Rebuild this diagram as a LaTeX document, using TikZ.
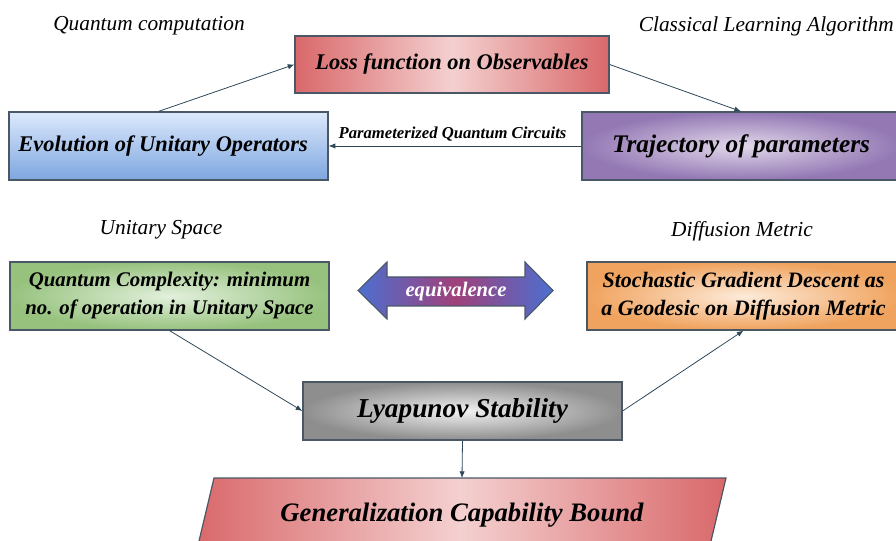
\documentclass[tikz,border=0pt]{standalone}
\usepackage{fontspec}
\setmainfont{Liberation Serif}
\usetikzlibrary{arrows.meta,shapes.geometric}
\definecolor{linec}{HTML}{2F4858}
\definecolor{boxline}{HTML}{4A5866}
\definecolor{redE}{HTML}{D9686A}
\definecolor{redC}{HTML}{F4D0D0}
\definecolor{blueT}{HTML}{DCE9FC}
\definecolor{blueB}{HTML}{7EA6E0}
\definecolor{purE}{HTML}{9378B4}
\definecolor{purC}{HTML}{E2D8EA}
\definecolor{grnE}{HTML}{97C27E}
\definecolor{grnC}{HTML}{E2F0DC}
\definecolor{orgE}{HTML}{F0A35E}
\definecolor{orgC}{HTML}{FDEBDA}
\definecolor{gryE}{HTML}{8E8E8E}
\definecolor{gryC}{HTML}{F2F2F2}
\definecolor{arrB}{HTML}{4C6FD0}
\definecolor{arrM}{HTML}{A0407A}
\tikzset{
  box/.style={draw=boxline, line width=0.9pt, rectangle, align=center,
    font=\bfseries\itshape, inner sep=2pt},
  lbl/.style={font=\itshape\fontsize{16}{18}\selectfont, inner sep=0pt},
  conn/.style={draw=linec, line width=0.6pt, -{Latex[length=5pt,width=4pt]}},
}
\begin{document}
\begin{tikzpicture}[x=0.75pt,y=-0.75pt]
\useasboundingbox (0,0) rectangle (896,541);
\clip (0,0) rectangle (896,541);

% labels
\node[lbl] (lq) at (149,26) {Quantum computation};
\node[lbl, anchor=east] (lc) at (894,26) {Classical Learning Algorithm};
\node[lbl] (lu) at (161,230) {Unitary Space};
\node[lbl] (ld) at (742,231) {Diffusion Metric};

% top boxes
\node[box, left color=redE, right color=redE, middle color=redC,
  minimum width=235.5pt, minimum height=42.75pt,
  font=\bfseries\itshape\fontsize{16.8}{20}\selectfont] (loss) at (452,64.5)
  {Loss function on Observables};
\node[box, top color=blueT, bottom color=blueB,
  minimum width=239.25pt, minimum height=51pt,
  font=\bfseries\itshape\fontsize{16.8}{20}\selectfont] (evo) at (168.5,146)
  {\hspace*{-8pt}Evolution of Unitary Operators};
\node[box, inner color=purC, outer color=purE,
  minimum width=238.5pt, minimum height=51pt,
  font=\bfseries\itshape\fontsize{19}{22}\selectfont] (traj) at (741,146)
  {Trajectory of parameters};

% middle boxes
\node[box, inner color=grnC, outer color=grnE,
  minimum width=239.25pt, minimum height=51pt,
  font=\bfseries\itshape\fontsize{15.6}{21}\selectfont] (qc) at (169.5,296)
  {Quantum Complexity: minimum\\no. of operation in Unitary Space};
\node[box, inner color=orgC, outer color=orgE,
  minimum width=234.75pt, minimum height=51pt,
  font=\bfseries\itshape\fontsize{16.5}{21}\selectfont] (sgd) at (743.5,296)
  {Stochastic Gradient Descent as\\a Geodesic on Diffusion Metric};

% equivalence arrow
\path[draw=boxline, line width=0.8pt, left color=arrB, right color=arrB, middle color=arrM]
  (358,290.5) -- (387,262) -- (387,277) -- (525,277) -- (525,262) -- (553,290.5)
  -- (525,319) -- (525,306) -- (387,306) -- (387,319) -- cycle;
\node[font=\bfseries\itshape\fontsize{15.5}{16}\selectfont, text=white] (eq) at (456,291.5) {equivalence};

% Lyapunov
\node[box, inner color=gryC, outer color=gryE,
  minimum width=239.25pt, minimum height=43.5pt,
  font=\bfseries\itshape\fontsize{20.5}{22}\selectfont] (lya) at (462.5,411)
  {Lyapunov Stability};

% Generalization parallelogram
\path[draw=boxline, line width=0.9pt, left color=redE, right color=redE, middle color=redC]
  (214,478) -- (726,478) -- (706.5,560) -- (194.5,560) -- cycle;
\node[anchor=north, minimum height=55.5pt, inner sep=0pt,
  font=\bfseries\itshape\fontsize{20}{22}\selectfont] (gen) at (462,478)
  {Generalization Capability Bound};

% connectors
\draw[conn] ([xshift=-7.5pt]evo.north) -- (loss.west);
\draw[conn] (loss.east) -- (traj.north);
\draw[conn] (traj.west) -- node[above=0pt, pos=0.51, text=black,
  font=\bfseries\itshape\fontsize{12.5}{14}\selectfont] (pqc) {Parameterized Quantum Circuits} (evo.east);
\draw[conn] (qc.south) -- (lya.west);
\draw[conn] (lya.east) -- (sgd.south);
\draw[conn] (lya.south) -- (gen.north);
\end{tikzpicture}
\end{document}
